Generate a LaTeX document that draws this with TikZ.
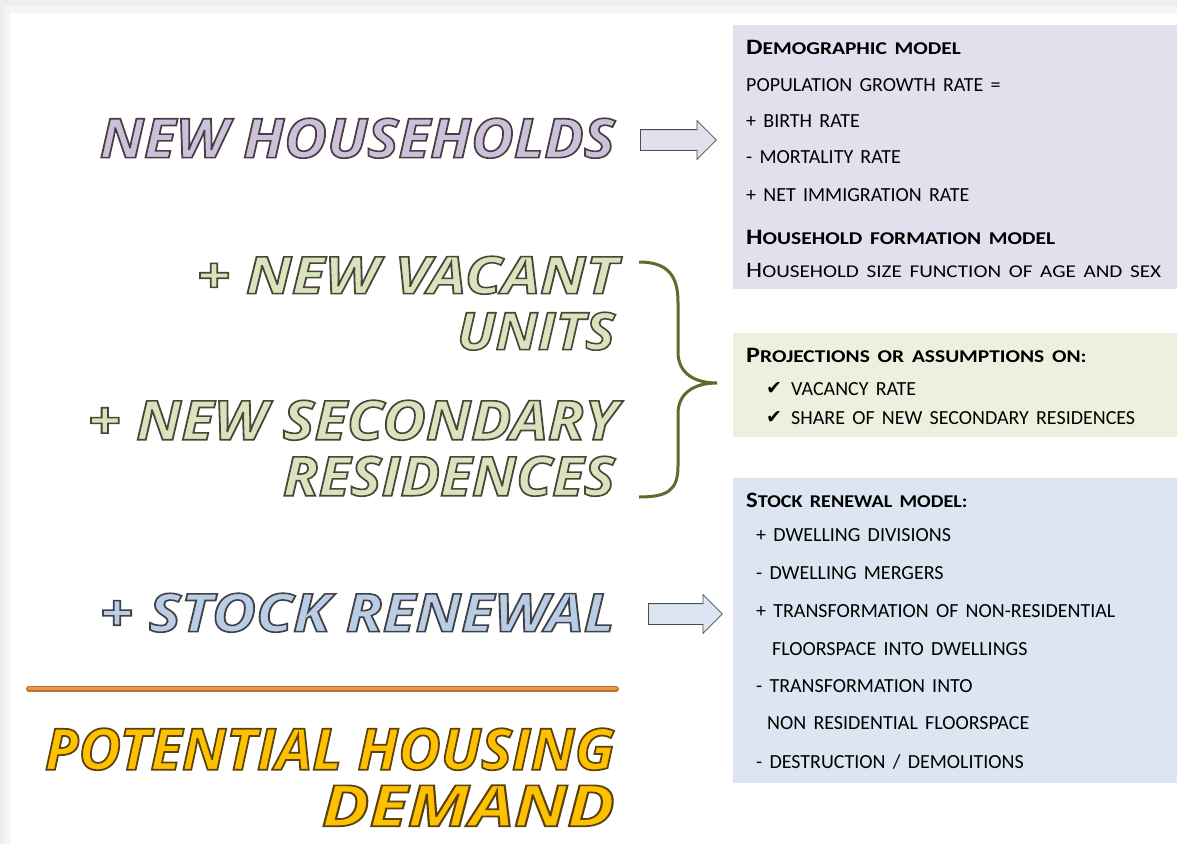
\documentclass[tikz,border=0pt]{standalone}
\usepackage{fontspec}
\usepackage{graphicx}
\usetikzlibrary{shapes.arrows}
\setmainfont{Carlito}[WordSpace=1.6]
\newfontfamily\comicfont{Open Sans}
\newfontfamily\djv{DejaVu Sans}
\definecolor{lil}{HTML}{CCC1DA}
\definecolor{grn}{HTML}{D7E4BD}
\definecolor{blu}{HTML}{B9CDE5}
\definecolor{gld}{HTML}{FFC000}
\definecolor{boxlil}{HTML}{E4DFEC}
\definecolor{boxgrn}{HTML}{EBF1DE}
\definecolor{boxblu}{HTML}{DCE6F2}
\definecolor{brace}{HTML}{5A6E2A}
\definecolor{oline}{HTML}{E39A4B}
\definecolor{olinedark}{HTML}{B8702E}
\definecolor{frame}{HTML}{EEEEEE}
% #1 width, #2 height, #3 fill colour, #4 stroke rgb, #5 text
\newcommand\bigtext[5]{\resizebox*{#1}{#2}{\comicfont\bfseries\itshape\fontsize{30}{32}\selectfont\textcolor{#3}{\special{pdf:literal direct 2 Tr 0.9 w #4 RG}#5\special{pdf:literal direct 0 Tr}}}}
\newcommand\hdr[3][1.19]{\scalebox{#1}[1]{{\fontsize{22}{24}\selectfont #2}{\fontsize{18}{20}\selectfont #3}}}
\tikzset{
  bigtxt/.style={inner sep=0pt, anchor=north east},
  boxtxt/.style={inner sep=0pt, anchor=base west, font=\fontsize{20}{22}\selectfont},
  hdrtxt/.style={inner sep=0pt, anchor=base west, font=\bfseries},
  checktxt/.style={inner sep=0pt, anchor=base west, font=\djv\fontsize{19}{21}\selectfont},
  blockarrow/.style={single arrow, draw=black!70, line width=0.8pt, inner sep=10pt,
    single arrow head extend=9pt, anchor=tail},
}
\begin{document}
\begin{tikzpicture}[x=1pt,y=-1pt]
\useasboundingbox (0,0) rectangle (1177,844);
\fill[frame] (0,0) rectangle (1177,844);
\fill[black!4] (4,6) rectangle (1177,844);
\fill[white] (10,13) rectangle (1177,844);

% boxes
\fill[boxlil] (733,25) rectangle (1177,289);
\fill[boxgrn] (733,333) rectangle (1177,437);
\fill[boxblu] (733,478) rectangle (1177,783);

% left big texts
\node[bigtxt] (nh) at (615,118) {\bigtext{515pt}{40pt}{lil}{0.29 0.24 0.26}{NEW HOUSEHOLDS}};
\node[bigtxt] (nv1) at (618,256) {\bigtext{421pt}{38pt}{grn}{0.29 0.27 0.21}{+ NEW VACANT}};
\node[bigtxt] (nv2) at (615,312) {\bigtext{158pt}{38pt}{grn}{0.29 0.27 0.21}{UNITS}};
\node[bigtxt] (ns1) at (618,400) {\bigtext{530pt}{40pt}{grn}{0.29 0.27 0.21}{+ NEW SECONDARY}};
\node[bigtxt] (ns2) at (615,456) {\bigtext{332pt}{40pt}{grn}{0.29 0.27 0.21}{RESIDENCES}};
\node[bigtxt] (sr) at (615,593) {\bigtext{515pt}{39pt}{blu}{0.25 0.25 0.28}{+ STOCK RENEWAL}};
\node[bigtxt] (ph1) at (615,728) {\bigtext{570pt}{42pt}{gld}{0.35 0.26 0.06}{POTENTIAL HOUSING}};
\node[bigtxt] (ph2) at (615,785) {\bigtext{293pt}{41pt}{gld}{0.35 0.26 0.06}{DEMAND}};

% orange line
\draw[line width=6pt, olinedark, line cap=round] (29,689) -- (616,689);
\draw[line width=3.5pt, oline, line cap=round] (29,688.3) -- (616,688.3);

% block arrows
\node[blockarrow, fill=boxlil, minimum height=76pt] (a1) at (640,140) {};
\node[blockarrow, fill=boxblu, minimum height=74pt] (a2) at (648,614) {};

% brace
\draw[brace, line width=3pt]
  (639,262) .. controls (668,262) and (678,276) .. (678,302)
  -- (678,352) .. controls (678,373) and (694,383) .. (717,383)
  .. controls (694,383) and (678,393) .. (678,414)
  -- (678,466) .. controls (678,490) and (668,497) .. (639,497);

% demographic box
\node[hdrtxt] (d0) at (746,54) {\hdr{D}{EMOGRAPHIC MODEL}};
\node[boxtxt] (d1) at (746,91) {POPULATION GROWTH RATE =};
\node[boxtxt] (d2) at (746,127) {+ BIRTH RATE};
\node[boxtxt] (d3) at (746,163) {- MORTALITY RATE};
\node[boxtxt] (d4) at (746,201) {+ NET IMMIGRATION RATE};
\node[hdrtxt] (d5) at (746,244) {\hdr{H}{OUSEHOLD FORMATION MODEL}};
\node[boxtxt] (d6) at (746,277) {\hdr[1.175]{H}{OUSEHOLD SIZE FUNCTION OF AGE AND SEX}};

% projections box
\node[hdrtxt] (p0) at (746,362) {\hdr{P}{ROJECTIONS OR ASSUMPTIONS ON:}};
\node[checktxt] (c1) at (766,394) {✔};
\node[boxtxt] (p1) at (791,395) {VACANCY RATE};
\node[checktxt] (c2) at (766,423) {✔};
\node[boxtxt] (p2) at (791,424) {SHARE OF NEW SECONDARY RESIDENCES};

% stock renewal box
\node[hdrtxt] (s0) at (746,507) {\hdr[1.12]{S}{TOCK RENEWAL MODEL:}};
\node[boxtxt] (s1) at (756,541) {+ DWELLING DIVISIONS};
\node[boxtxt] (s2) at (756,579) {- DWELLING MERGERS};
\node[boxtxt] (s3) at (756,617) {+ TRANSFORMATION OF NON-RESIDENTIAL};
\node[boxtxt] (s4) at (772,655) {FLOORSPACE INTO DWELLINGS};
\node[boxtxt] (s5) at (756,692) {- TRANSFORMATION INTO};
\node[boxtxt] (s6) at (767,729) {NON RESIDENTIAL FLOORSPACE};
\node[boxtxt] (s7) at (756,768) {- DESTRUCTION / DEMOLITIONS};
\end{tikzpicture}
\end{document}
